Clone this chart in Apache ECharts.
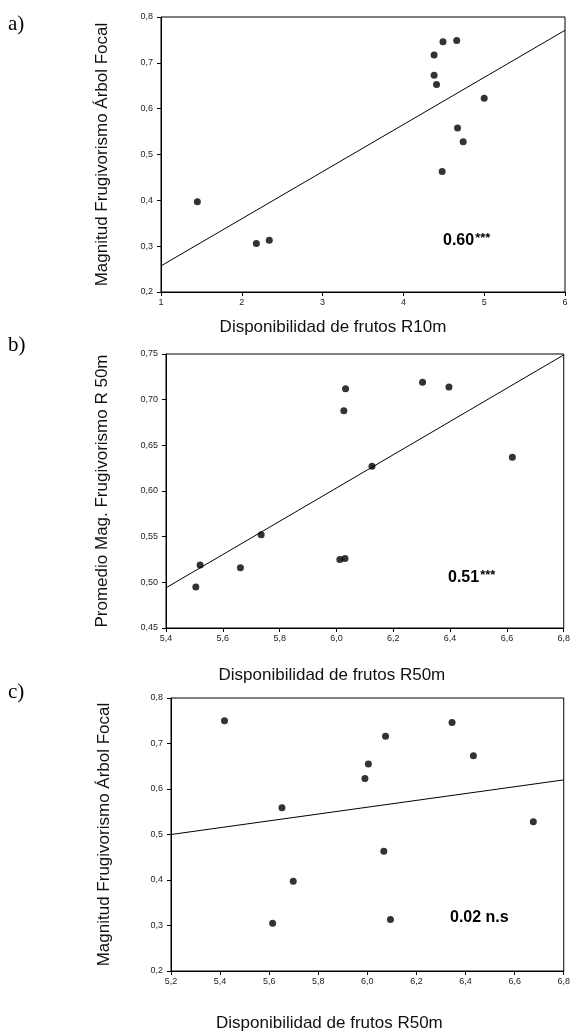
<!DOCTYPE html>
<html>
<head>
<meta charset="utf-8">
<script src="https://cdn.jsdelivr.net/npm/echarts@6/dist/echarts.min.js"></script>
<style>
html,body{margin:0;padding:0;background:#fff;}
#c{width:573px;height:1033px;}
</style>
</head>
<body>
<div id="c"></div>
<script>
// Panel a
const xA = [1.45, 2.18, 2.34, 4.38, 4.38, 4.41, 4.49, 4.66, 4.48, 4.67, 4.74, 5.00];
const yA = [0.397, 0.306, 0.313, 0.717, 0.673, 0.653, 0.746, 0.749, 0.463, 0.558, 0.528, 0.623];
const fitA = [[1, 0.257], [6, 0.771]];
// Panel b
const xB = [5.505, 5.52, 5.662, 5.735, 6.012, 6.03, 6.026, 6.032, 6.125, 6.303, 6.396, 6.619];
const yB = [0.495, 0.519, 0.516, 0.552, 0.525, 0.526, 0.688, 0.712, 0.627, 0.719, 0.714, 0.637];
const fitB = [[5.4, 0.494], [6.8, 0.749]];
// Panel c
const xC = [5.418, 5.614, 5.652, 5.698, 5.99, 6.004, 6.074, 6.067, 6.094, 6.345, 6.432, 6.676];
const yC = [0.75, 0.305, 0.559, 0.397, 0.623, 0.655, 0.716, 0.463, 0.313, 0.746, 0.673, 0.528];
const fitC = [[5.2, 0.50], [6.8, 0.62]];

const panelLabels = ['a)', 'b)', 'c)'];
const yNames = ['Magnitud Frugivorismo Árbol Focal', 'Promedio Mag. Frugivorismo R 50m', 'Magnitud Frugivorismo Árbol Focal'];
const xNames = ['Disponibilidad de frutos R10m', 'Disponibilidad de frutos R50m', 'Disponibilidad de frutos R50m'];
const stats = [['0.60', '***'], ['0.51', '***'], ['0.02 n.s', '']];

const toPts = (xs, ys) => xs.map((x, i) => [x, ys[i]]);
const comma = d => v => v.toFixed(d).replace('.', ',');

const tickFont = {fontFamily: 'Liberation Sans', fontSize: 9, color: '#222'};
const nameFont = {fontFamily: 'Liberation Sans', fontSize: 17, color: '#111'};

function xAx(i, min, max, interval, dec, gap, shift) {
  return {
    type: 'value', gridIndex: i, min, max, interval,
    name: xNames[i], nameLocation: 'middle', nameGap: gap,
    nameTextStyle: Object.assign({padding: [0, shift, 0, 0]}, nameFont),
    axisLine: {show: true, lineStyle: {color: '#000', width: 1}},
    axisTick: {show: true, length: 4, lineStyle: {color: '#000'}},
    axisLabel: Object.assign({formatter: comma(dec), margin: 6}, tickFont),
    splitLine: {show: false}
  };
}
function yAx(i, min, max, interval, dec, gap) {
  return {
    type: 'value', gridIndex: i, min, max, interval,
    name: yNames[i], nameLocation: 'middle', nameGap: gap, nameTextStyle: nameFont,
    axisLine: {show: true, lineStyle: {color: '#000', width: 1}},
    axisTick: {show: true, length: 4, lineStyle: {color: '#000'}},
    axisLabel: Object.assign({formatter: comma(dec), margin: 8}, tickFont),
    splitLine: {show: false}
  };
}
function scatter(i, pts) {
  return {type: 'scatter', xAxisIndex: i, yAxisIndex: i, data: pts, symbolSize: 7,
    itemStyle: {color: '#000'}, silent: true};
}
function fit(i, pts) {
  return {type: 'line', xAxisIndex: i, yAxisIndex: i, data: pts, showSymbol: false, symbol: 'none',
    lineStyle: {color: '#000', width: 1}, silent: true};
}

const gridBase = {show: true, borderColor: '#000', borderWidth: 1, backgroundColor: 'transparent', right: 8};

const statPos = [[443, 241], [448, 578], [450, 918]];
const labelPos = [[8, 24], [8, 345], [8, 692]];

const graphics = [];
panelLabels.forEach((t, i) => {
  graphics.push({type: 'text', x: labelPos[i][0], y: labelPos[i][1],
    style: {text: t, font: '21px "Liberation Serif"', fill: '#000', verticalAlign: 'middle'}});
});
stats.forEach((s, i) => {
  graphics.push({type: 'text', x: statPos[i][0], y: statPos[i][1],
    style: {text: '{n|' + s[0] + '}' + (s[1] ? '{s|' + s[1] + '}' : ''), verticalAlign: 'middle',
      rich: {
        n: {fontFamily: 'Liberation Sans', fontWeight: 'bold', fontSize: 16, fill: '#000', color: '#000'},
        s: {fontFamily: 'Liberation Sans', fontWeight: 'bold', fontSize: 13, fill: '#000', color: '#000', verticalAlign: 'top', padding: [0, 0, 6, 1]}
      }}});
});

const option = {
  animation: false,
  backgroundColor: '#fff',
  grid: [
    Object.assign({left: 161, top: 17, height: 275}, gridBase),
    Object.assign({left: 166, top: 354, height: 274}, gridBase),
    Object.assign({left: 171, top: 698, height: 275}, gridBase)
  ],
  xAxis: [xAx(0, 1, 6, 1, 0, 27, 60), xAx(1, 5.4, 6.8, 0.2, 1, 39, 66), xAx(2, 5.2, 6.8, 0.2, 1, 44, 76)],
  yAxis: [yAx(0, 0.2, 0.8, 0.1, 1, 50), yAx(1, 0.45, 0.75, 0.05, 2, 55), yAx(2, 0.2, 0.8, 0.1, 1, 58)],
  series: [
    fit(0, fitA), scatter(0, toPts(xA, yA)),
    fit(1, fitB), scatter(1, toPts(xB, yB)),
    fit(2, fitC), scatter(2, toPts(xC, yC))
  ],
  graphic: graphics
};

const chart = echarts.init(document.getElementById('c'), null, {renderer: 'canvas'});
chart.setOption(option);
</script>
</body>
</html>
